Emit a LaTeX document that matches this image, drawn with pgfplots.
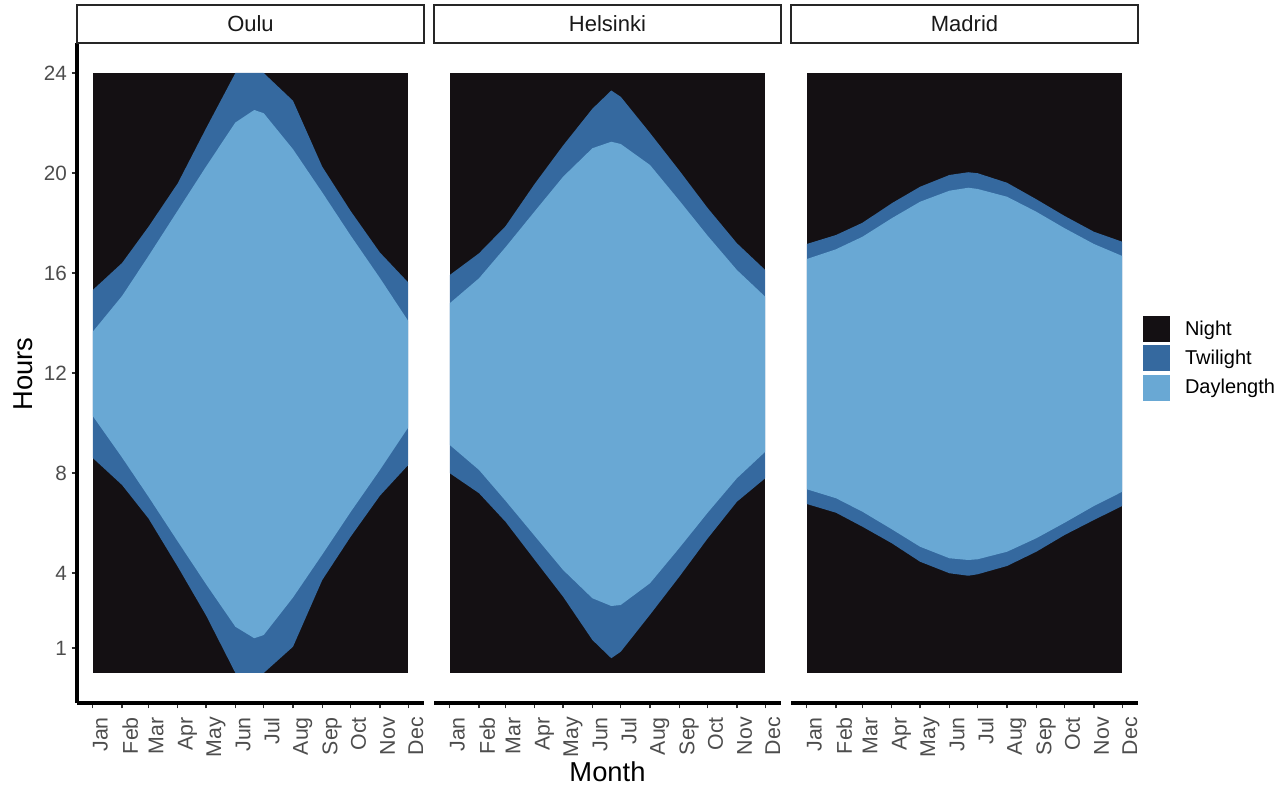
\documentclass[border=0pt]{standalone}
\usepackage{fontspec}
\setmainfont{Liberation Sans}
\usepackage{pgfplots}
\usepackage{pgfplotstable}
\pgfplotsset{compat=1.18}

\definecolor{nightc}{HTML}{141013}
\definecolor{twic}{HTML}{35699F}
\definecolor{dayc}{HTML}{69A8D4}
\definecolor{tickgray}{HTML}{4D4D4D}

% Band outlines: day of year (0 = 1 Jan) and hour of day.
% Each band runs along its upper edge (evening) from Jan to Dec,
% then back along its lower edge (morning) from Dec to Jan.

% ---- Oulu ----
\pgfplotstableread{
day h
0   15.32
31  16.40
59  17.85
90  19.59
120 21.79
151 24.00
171 24.00
181 24.00
212 22.89
243 20.25
273 18.48
304 16.82
334 15.62
334 8.32
304 7.09
273 5.45
243 3.72
212 1.05
181 0.00
171 0.00
151 0.00
120 2.30
90  4.25
59  6.18
31  7.52
0   8.60
}\ouluTw
\pgfplotstableread{
day h
0   13.65
31  15.08
59  16.68
90  18.50
120 20.26
151 22.02
171 22.52
181 22.39
212 20.95
243 19.22
273 17.50
304 15.80
334 14.08
334 9.82
304 8.12
273 6.44
243 4.74
212 3.02
181 1.52
171 1.39
151 1.85
120 3.55
90  5.26
59  7.05
31  8.62
0   10.28
}\ouluDay

% ---- Helsinki ----
\pgfplotstableread{
day h
0   15.92
31  16.79
59  17.87
90  19.57
120 21.10
151 22.57
171 23.30
181 23.05
212 21.60
243 20.10
273 18.60
304 17.19
334 16.12
334 7.79
304 6.85
273 5.38
243 3.85
212 2.33
181 0.85
171 0.59
151 1.32
120 3.05
90  4.52
59  6.05
31  7.19
0   7.99
}\helsinkiTw
\pgfplotstableread{
day h
0   14.79
31  15.79
59  17.03
90  18.47
120 19.85
151 20.99
171 21.25
181 21.16
212 20.32
243 18.90
273 17.49
304 16.12
334 15.05
334 8.85
304 7.79
273 6.41
243 5.00
212 3.59
181 2.72
171 2.68
151 2.99
120 4.12
90  5.48
59  6.89
31  8.12
0   9.12
}\helsinkiDay

% ---- Madrid ----
\pgfplotstableread{
day h
0   17.16
31  17.52
59  18.01
90  18.79
120 19.45
151 19.92
171 20.03
181 19.99
212 19.61
243 18.95
273 18.28
304 17.65
334 17.25
334 6.68
304 6.12
273 5.52
243 4.85
212 4.28
181 3.95
171 3.89
151 3.99
120 4.45
90  5.19
59  5.85
31  6.41
0   6.76
}\madridTw
\pgfplotstableread{
day h
0   16.56
31  16.95
59  17.45
90  18.19
120 18.85
151 19.29
171 19.41
181 19.36
212 19.05
243 18.45
273 17.79
304 17.16
334 16.68
334 7.25
304 6.68
273 6.01
243 5.39
212 4.85
181 4.55
171 4.52
151 4.59
120 5.05
90  5.75
59  6.45
31  6.99
0   7.35
}\madridDay

\pgfplotsset{
  panel/.style={
    scale only axis, width=260.25pt, height=495pt,
    anchor=south west,
    xmin=-16.7, xmax=350.7, ymin=-1.2, ymax=25.2,
    axis x line*=bottom,
    axis line style={line width=2.6pt, black},
    tick align=outside,
    major tick length=4pt,
    tick style={line width=1pt, black!80},
    xtick={0,31,59,90,120,151,181,212,243,273,304,334},
    xticklabels={Jan,Feb,Mar,Apr,May,Jun,Jul,Aug,Sep,Oct,Nov,Dec},
    xticklabel style={rotate=90, anchor=north east, inner sep=0pt,
      font=\fontsize{16}{19}\selectfont, text=tickgray},
    xticklabel shift=6.5pt,
  },
  keybox/.style={legend image code/.code={%
    \fill[#1] (0pt,-9.75pt) rectangle (20.25pt,9.75pt);}},
}

% Night background, then twilight and daylength bands
\newcommand{\drawbands}[2]{%
  \addplot[fill=nightc, draw=none, keybox=nightc]
    coordinates {(0,0) (334,0) (334,24) (0,24)};
  \addplot[fill=twic, draw=none, keybox=twic] table[x=day, y=h] {#1};
  \addplot[fill=dayc, draw=none, keybox=dayc] table[x=day, y=h] {#2};
}

\begin{document}
\begin{tikzpicture}
\path[use as bounding box] (0,0) rectangle (964.5pt,591pt);

\begin{axis}[panel, at={(57.75pt,63.75pt)},
  axis y line*=left,
  ytick={1,4,8,12,16,20,24},
  yticklabel style={font=\fontsize{15.5}{18}\selectfont, text=tickgray,
    /pgf/number format/assume math mode=true},
  ]
  \drawbands{\ouluTw}{\ouluDay}
\end{axis}

\begin{axis}[panel, at={(325.5pt,63.75pt)}, axis y line=none]
  \drawbands{\helsinkiTw}{\helsinkiDay}
\end{axis}

\begin{axis}[panel, at={(593.25pt,63.75pt)}, axis y line=none,
  legend style={at={(1.0144,0.5864)}, anchor=north west, draw=none, fill=none,
    inner sep=0pt, outer sep=0pt, row sep=2.5pt, column sep=11.25pt,
    nodes={inner sep=0pt},
    font=\fontsize{15}{18}\selectfont},
  legend cell align=left,
  ]
  \drawbands{\madridTw}{\madridDay}
  \legend{Night,Twilight,Daylength}
\end{axis}

% facet strips
\foreach \x/\name in {57.75/Oulu, 325.5/Helsinki, 593.25/Madrid} {
  \draw[line width=1pt, draw=black!85, fill=white]
    (\x pt, 558.75pt) rectangle ++(260.25pt, 28.5pt);
  \node[font=\fontsize{16.5}{19}\selectfont, text=black!90]
    at (\x pt + 130.125pt, 573pt) {\name};
}

\node[rotate=90, font=\fontsize{20.5}{24}\selectfont] at (17.25pt, 310.5pt) {Hours};
\node[anchor=base, font=\fontsize{20.5}{24}\selectfont] at (455.6pt, 4.5pt) {Month};
\end{tikzpicture}
\end{document}
